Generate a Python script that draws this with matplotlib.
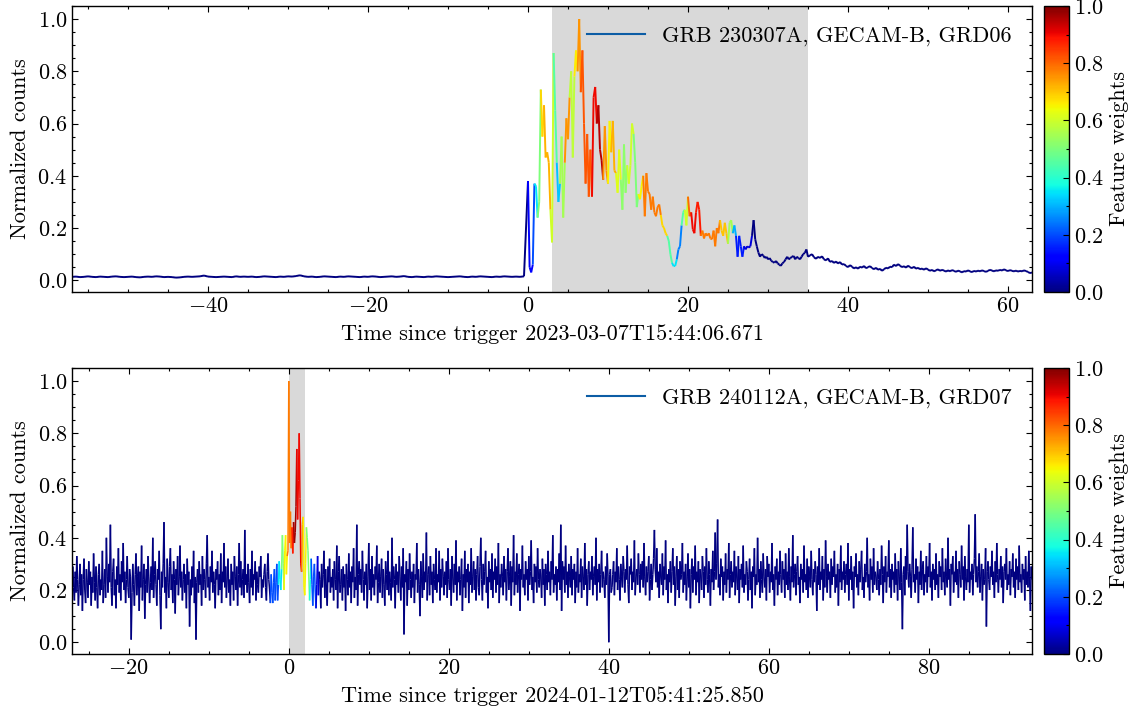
import numpy as np
import matplotlib
matplotlib.use("Agg")
import matplotlib.pyplot as plt
from matplotlib.collections import LineCollection
from matplotlib.lines import Line2D
from matplotlib.ticker import MultipleLocator
from matplotlib.colors import Normalize
from matplotlib.cm import ScalarMappable

plt.rcParams.update({
    'font.family': 'serif', 'font.serif': ['cmr10'],
    'mathtext.fontset': 'cm', 'axes.formatter.use_mathtext': True,
    'font.size': 16,
    'xtick.direction': 'in', 'ytick.direction': 'in',
    'xtick.top': True, 'ytick.right': True,
    'xtick.major.size': 4.5, 'xtick.minor.size': 2.3,
    'ytick.major.size': 4.5, 'ytick.minor.size': 2.3,
    'xtick.major.width': 0.8, 'ytick.major.width': 0.8,
    'xtick.minor.width': 0.8, 'ytick.minor.width': 0.8,
    'axes.linewidth': 1.0,
})

# ---------------- Panel 1 : GRB 230307A ----------------
top_label = "GRB 230307A, GECAM-B, GRD06"
top_xlabel = "Time since trigger 2023-03-07T15:44:06.671"
top_pre_start, top_pre_step = -57.0, 0.5
top_pre = [13, 14, 12, 13, 15, 13, 12, 14, 13, 12, 14, 15, 13, 12, 13, 14, 12, 11, 13, 14,
           13, 15, 14, 12, 13, 12, 10, 11, 13, 14, 13, 14, 15, 18, 14, 13, 12, 13, 14, 13,
           12, 15, 13, 14, 13, 14, 12, 13, 15, 14, 13, 12, 14, 13, 15, 14, 16, 19, 15, 13,
           14, 12, 13, 15, 14, 13, 12, 14, 13, 15, 14, 13, 12, 14, 13, 15, 14, 12, 13, 14,
           15, 13, 14, 16, 13, 12, 14, 13, 12, 14, 13, 15, 14, 13, 12, 13, 14, 15, 13, 12,
           14, 13, 15, 14, 13, 12, 14, 13, 15, 14, 13, 14, 13, 15]  # x1e-3
top_burst_start, top_burst_step = 0.0, 0.2
top_burst = [0.38, 0.05, 0.03, 0.06, 0.37, 0.36, 0.24, 0.30, 0.73, 0.55, 0.67, 0.47, 0.49, 0.45,
             0.27, 0.145, 0.87, 0.65, 0.45, 0.30, 0.37, 0.55, 0.24, 0.45, 0.62, 0.54, 0.70, 0.80,
             0.47, 0.78, 0.88, 0.80, 1.00, 0.72, 0.88, 0.60, 0.37, 0.56, 0.32, 0.50, 0.32, 0.70,
             0.74, 0.60, 0.67, 0.50, 0.46, 0.385, 0.59, 0.42, 0.37, 0.61, 0.49, 0.61, 0.42, 0.41,
             0.335, 0.50, 0.385, 0.27, 0.52, 0.335, 0.44, 0.37, 0.44, 0.60, 0.56, 0.45, 0.28, 0.33,
             0.31, 0.36, 0.40, 0.245, 0.41, 0.34, 0.33, 0.27, 0.32, 0.26, 0.245, 0.28, 0.29, 0.25,
             0.21, 0.20, 0.18, 0.17, 0.15, 0.10, 0.067, 0.054, 0.055, 0.08, 0.118, 0.13, 0.21, 0.26,
             0.27, 0.21, 0.32, 0.245, 0.26, 0.195, 0.18, 0.26, 0.30, 0.27, 0.17, 0.19, 0.16, 0.18,
             0.17, 0.18, 0.16, 0.157, 0.19, 0.13, 0.20, 0.18, 0.23, 0.19, 0.17, 0.22, 0.18, 0.14,
             0.22, 0.23, 0.18, 0.21, 0.17, 0.09, 0.17, 0.13, 0.09, 0.13, 0.118, 0.13, 0.125, 0.13,
             0.17, 0.23, 0.157, 0.13, 0.106, 0.09, 0.10, 0.095, 0.085, 0.09, 0.08, 0.085, 0.075,
             0.07, 0.067, 0.074, 0.065, 0.06, 0.055, 0.065, 0.07, 0.08, 0.09, 0.08, 0.085, 0.09,
             0.093, 0.08, 0.09, 0.085, 0.08, 0.09, 0.10, 0.105, 0.118, 0.09]
top_post_start, top_post_step = 35.25, 0.25
top_post = [95, 100, 88, 82, 90, 85, 92, 80, 76, 84, 70, 74, 66, 72, 64, 70, 60, 62, 55, 50,
            58, 52, 45, 50, 44, 52, 48, 55, 46, 50, 54, 47, 42, 48, 40, 44, 36, 42, 48, 45,
            52, 50, 60, 54, 62, 56, 50, 54, 48, 56, 50, 46, 52, 44, 48, 42, 45, 40, 46, 41,
            36, 40, 34, 38, 42, 36, 40, 37, 33, 38, 34, 39, 36, 32, 37, 34, 30, 35, 33, 38,
            34, 31, 36, 33, 37, 34, 38, 35, 32, 36, 40, 37, 34, 38, 36, 40, 37, 42, 38, 35,
            39, 36, 34, 37, 33, 36, 34, 38, 35, 32, 27, 30]  # x1e-3
top_w_edges = [0, 0.5, 0.8, 1.2, 1.5, 2.0, 2.7, 3.1, 3.5, 4.0, 4.5, 5.2, 5.7, 6.2, 6.6, 8.0,
               8.6, 9.4, 10.0, 10.4, 11.0, 11.6, 12.4, 13.2, 13.8, 14.3, 16.5, 17.4, 18.0, 18.6,
               19.2, 19.6, 20.0, 20.4, 21.0, 21.6, 24.0, 25.0, 25.5, 26.0, 27.0, 28.0]
top_w_vals = [0.0, 0.12, 0.2, 0.35, 0.5, 0.68, 0.72, 0.6, 0.45, 0.32, 0.55, 0.75, 0.58, 0.66,
              0.75, 0.82, 0.9, 0.95, 0.75, 0.65, 0.72, 0.62, 0.52, 0.6, 0.5, 0.65, 0.78, 0.68,
              0.45, 0.35, 0.25, 0.45, 0.6, 0.8, 0.9, 0.88, 0.78, 0.7, 0.55, 0.3, 0.15, 0.08, 0.0]
top_shade = (3.0, 35.0)
top_xlim = (-57.0, 63.0)

# ---------------- Panel 2 : GRB 240112A ----------------
bot_label = "GRB 240112A, GECAM-B, GRD07"
bot_xlabel = "Time since trigger 2024-01-12T05:41:25.850"
bot_start, bot_step = -27.1, 0.1
bot_pre = [13, 29, 21, 16, 27, 19, 33, 24, 14, 22, 30, 18, 26, 12, 24, 32, 20, 15, 28, 23,
           17, 31, 22, 27, 14, 25, 19, 34, 23, 16, 29, 21, 13, 26, 30, 18, 24, 20, 35, 15,
           22, 28, 17, 40, 25, 19, 30, 23, 45, 21, 14, 27, 32, 18, 24, 13, 29, 22, 36, 19,
           26, 16, 31, 23, 38, 20, 27, 15, 24, 33, 21, 17, 28, 25, 1, 19, 30, 22, 14, 26,
           34, 18, 25, 29, 12, 27, 21, 37, 16, 24, 30, 9, 22, 28, 19, 33, 25, 15, 23, 29,
           20, 40, 17, 26, 31, 22, 14, 28, 24, 35, 18, 5, 27, 21, 30, 46, 19, 25, 13, 32,
           23, 17, 29, 36, 20, 26, 15, 31, 24, 11, 28, 22, 33, 18, 25, 37, 21, 27, 16, 24,
           30, 19, 26, 13, 32, 22, 27, 6, 24, 18, 29, 21, 35, 15, 25, 1, 23, 28, 19, 31,
           22, 26, 14, 33, 20, 28, 24, 17, 30, 41, 21, 25, 16, 29, 23, 35, 19, 27, 22, 13,
           28, 24, 31, 18, 26, 20, 34, 15, 27, 23, 38, 21, 29, 17, 25, 32, 19, 24, 14, 30,
           22, 27, 16, 33, 25, 20, 29, 14, 26, 38, 21, 31, 18, 24, 28, 17, 43, 22, 26, 19,
           30, 23, 15, 28, 21, 35, 18, 26, 24, 31, 16, 27, 22, 19, 29, 25, 33, 17, 24, 21,
           26]
bot_burst = [30, 21, 16, 27, 34, 24, 20, 15, 26, 19,
             15, 23, 28, 16, 23, 30, 16, 22, 31, 24,
             20, 28, 41, 30, 20, 35, 41, 26, 33, 35,
             100, 38, 50, 36, 44, 34, 46, 38, 42, 52,
             74, 47, 62, 80, 55, 30, 27, 45, 48, 21,
             18, 30, 44, 40, 35, 25, 16, 24, 32, 22,
             14, 25, 30, 20, 13]
bot_post = [22, 33, 18, 27, 24, 13, 30, 21, 26, 35, 17, 28, 20, 14, 29, 23, 32, 19, 25, 21,
            28, 16, 31, 24, 20, 37, 13, 27, 33, 19, 22, 28, 16, 29, 21, 26, 12, 30, 24, 18,
            34, 21, 27, 15, 29, 23, 36, 17, 25, 20, 45, 14, 26, 31, 22, 28, 19, 35, 24, 16,
            27, 22, 30, 13, 25, 38, 20, 28, 16, 33, 21, 26, 18, 29, 24, 37, 15, 23, 30, 19,
            25, 32, 17, 28, 22, 14, 31, 26, 20, 35, 18, 27, 23, 16, 40, 21, 29, 24, 13, 30,
            22, 27, 19, 33, 25, 16, 29, 21, 36, 3, 26, 23, 31, 14, 28, 20, 34, 24, 17, 27,
            21, 30, 15, 26, 24, 38, 19, 28, 22, 10, 31, 25, 17, 34, 20, 27, 23, 42, 16, 26,
            29, 18, 33, 22, 27, 15, 30, 24, 20, 36, 19, 26, 23, 35, 16, 28, 21, 32, 25, 18,
            27, 22, 31, 17, 36, 24, 20, 28, 14, 33, 25, 19, 30, 22, 39, 16, 27, 23, 29, 18,
            24, 32, 12, 26, 21, 35, 17, 28, 23, 30, 15, 27, 22, 36, 19, 25, 31, 20, 28, 16,
            26, 33, 21, 18, 29, 40, 24, 16, 30, 22, 27, 35, 19, 25, 13, 31, 23, 28, 20, 34,
            17, 27, 24, 32, 19, 29, 22, 38, 15, 26, 21, 30, 25, 18, 33, 23, 28, 16, 27, 36,
            20, 25, 31, 14, 29, 23, 41, 18, 27, 22, 34, 19, 26, 30, 12, 28, 24, 37, 21, 26,
            18, 31, 24, 28, 16, 33, 22, 27, 39, 20, 25, 15, 30, 23, 29, 19, 36, 24, 21, 28,
            25, 17, 32, 22, 28, 14, 30, 26, 20, 35, 23, 27, 18, 31, 24, 41, 19, 26, 22, 29,
            16, 28, 23, 34, 20, 45, 12, 31, 24, 29, 19, 37, 22, 27, 17, 30, 25, 21, 33, 18,
            28, 24, 30, 15, 27, 21, 36, 19, 26, 23, 32, 17, 29, 25, 20, 38, 22, 28, 14, 26,
            31, 20, 27, 24, 33, 18, 25, 29, 22, 40, 16, 28, 23, 30, 19, 26, 35, 21, 27, 24,
            17, 29, 22, 34, 25, 0, 26, 28, 19, 21, 26, 31, 18, 27, 23, 36, 20, 29, 24, 16,
            30, 25, 21, 33, 27, 19, 28, 24, 37, 22, 15, 29, 26, 32, 20, 27, 23, 39, 18, 25,
            28, 22, 34, 26, 19, 30, 24, 31, 21, 38, 25, 18, 29, 23, 27, 33, 16, 24, 30, 20,
            26, 32, 43, 28, 23, 36, 21, 27, 17, 30, 25, 22, 34, 18, 29, 24, 39, 20, 26, 15,
            28, 23, 31, 19, 27, 36, 22, 29, 14, 25, 33, 20, 28, 17, 31, 24, 26, 38, 19, 27,
            22, 30, 16, 25, 34, 21, 28, 13, 26, 32, 19, 29, 24, 37, 18, 27, 23, 31, 15, 28,
            25, 20, 33, 27, 17, 29, 22, 36, 24, 19, 31, 26, 14, 28, 23, 35, 20, 27, 42, 24,
            30, 47, 21, 26, 18, 32, 25, 29, 16, 27, 22, 34, 19, 28, 24, 38, 17, 26, 31, 21,
            27, 23, 35, 18, 29, 25, 20, 33, 15, 28, 24, 30, 21, 37, 19, 26, 22, 31, 27, 16,
            24, 32, 20, 27, 13, 29, 25, 36, 18, 26, 22, 40, 23, 28, 17, 31, 24, 19, 34, 25,
            21, 28, 16, 33, 25, 30, 19, 27, 23, 38, 20, 26, 14, 29, 24, 32, 18, 27, 22, 35,
            26, 19, 31, 24, 28, 17, 34, 22, 27, 20, 36, 25, 16, 29, 23, 41, 21, 26, 30, 18,
            27, 33, 22, 25, 15, 30, 24, 28, 19, 37, 23, 26, 20, 32, 17, 29, 25, 21, 35, 24,
            18, 28, 23, 31, 26, 12, 29, 22, 36, 20, 27, 24, 33, 16, 28, 21, 39, 25, 19, 30,
            24, 27, 17, 32, 22, 29, 25, 35, 19, 26, 21, 30, 14, 28, 23, 37, 20, 27, 24, 31,
            19, 26, 30, 22, 38, 16, 28, 24, 33, 20, 27, 13, 29, 25, 34, 21, 26, 18, 31, 23,
            28, 35, 20, 25, 17, 30, 23, 27, 40, 21, 26, 16, 32, 24, 29, 19, 36, 22, 27, 25,
            20, 31, 24, 18, 28, 22, 37, 26, 15, 29, 23, 33, 19, 27, 25, 39, 21, 28, 17, 30,
            24, 27, 19, 34, 22, 28, 16, 31, 25, 20, 36, 23, 5, 26, 29, 18, 33, 24, 45, 27,
            21, 30, 25, 17, 28, 44, 23, 26, 19, 32, 24, 29, 15, 27, 22, 35, 20, 28, 31, 18,
            26, 23, 33, 19, 29, 25, 38, 21, 27, 16, 30, 24, 28, 20, 34, 22, 26, 17, 31, 25,
            29, 20, 36, 23, 27, 18, 32, 25, 21, 40, 24, 28, 14, 30, 26, 33, 19, 27, 23, 35,
            22, 28, 17, 31, 26, 21, 37, 24, 29, 16, 33, 25, 20, 28, 23, 45, 19, 27, 24, 30,
            18, 26, 32, 49, 23, 29, 21, 27, 34, 19, 25, 30, 16, 28, 22, 24, 36, 6, 27, 31,
            24, 20, 29, 25, 35, 22, 27, 17, 31, 23, 38, 26, 19, 28, 24, 33, 21, 29, 15, 27,
            30, 24, 36, 20, 26, 22, 31, 18, 28, 25, 34, 21, 27, 17, 32, 24, 29, 20, 37, 23,
            26, 19, 30, 24, 28, 16, 33, 22, 27, 21, 35, 25, 12, 29, 24]
bot_w_edges = [-2.4, -1.4, -1.0, -0.7, -0.3, 0.3, 0.5, 0.9, 1.5, 1.7, 2.1, 2.5, 2.7, 3.3, 3.7]
bot_w_vals = [0.0, 0.2, 0.35, 0.5, 0.65, 0.78, 0.88, 0.97, 0.9, 0.78, 0.65, 0.5, 0.38, 0.2,
              0.08, 0.0]
bot_shade = (0.0, 2.0)
bot_xlim = (-27.1, 92.9)

legend_color = '#0C5DA5'
shade_color = '#d9d9d9'
cmap_name = 'jet'


def lookup(edges, vals, t):
    return np.asarray(vals)[np.searchsorted(edges, t, side='right')]


# assemble series
t_top = np.concatenate([
    top_pre_start + top_pre_step * np.arange(len(top_pre)),
    top_burst_start + top_burst_step * np.arange(len(top_burst)),
    top_post_start + top_post_step * np.arange(len(top_post)),
])
y_top = np.concatenate([np.array(top_pre) / 1000.0, np.array(top_burst),
                        np.array(top_post) / 1000.0])
w_top = lookup(top_w_edges, top_w_vals, t_top)

y_bot = np.array(bot_pre + bot_burst + bot_post) / 100.0
t_bot = bot_start + bot_step * np.arange(len(y_bot))
w_bot = lookup(bot_w_edges, bot_w_vals, t_bot - 1e-9)

W, H = 1134, 710
fig = plt.figure(figsize=(W / 100, H / 100), dpi=100)
norm = Normalize(0, 1)


def panel(rect, crect, t, y, w, shade, xlim, label, xlabel, lw):
    ax = fig.add_axes(rect)
    cax = fig.add_axes(crect)
    ax.axvspan(shade[0], shade[1], color=shade_color, lw=0, zorder=0)
    pts = np.column_stack([t, y])
    segs = np.stack([pts[:-1], pts[1:]], axis=1)
    lc = LineCollection(segs, cmap=cmap_name, norm=norm, linewidths=lw, zorder=2)
    lc.set_array(w[:-1])
    ax.add_collection(lc)
    ax.set_xlim(*xlim)
    ax.set_ylim(-0.045, 1.05)
    ax.xaxis.set_major_locator(MultipleLocator(20))
    ax.xaxis.set_minor_locator(MultipleLocator(5))
    ax.yaxis.set_major_locator(MultipleLocator(0.2))
    ax.yaxis.set_minor_locator(MultipleLocator(0.05))
    ax.set_xlabel(xlabel, labelpad=6)
    ax.set_ylabel("Normalized counts", labelpad=5)
    ax.legend([Line2D([], [], color=legend_color, lw=1.5)], [label], loc='upper right',
              frameon=False, fontsize=16, handlelength=2.6)
    cb = fig.colorbar(ScalarMappable(norm=norm, cmap=cmap_name), cax=cax)
    cb.set_label("Feature weights", fontsize=16)
    cb.ax.yaxis.set_major_locator(MultipleLocator(0.2))
    cb.ax.yaxis.set_minor_locator(MultipleLocator(0.1))
    cb.ax.tick_params(which='both', direction='in')
    cb.outline.set_linewidth(1.0)
    return ax


aw = (1032 - 72) / W
ah = (292 - 6) / H
cx = 1044 / W
cw = 25 / W
panel([72 / W, 1 - 292 / H, aw, ah], [cx, 1 - 292 / H, cw, ah],
      t_top, y_top, w_top, top_shade, top_xlim, top_label, top_xlabel, 1.4)
panel([72 / W, 1 - 654 / H, aw, ah], [cx, 1 - 654 / H, cw, ah],
      t_bot, y_bot, w_bot, bot_shade, bot_xlim, bot_label, bot_xlabel, 1.1)

fig.savefig("out.png", dpi=100)
